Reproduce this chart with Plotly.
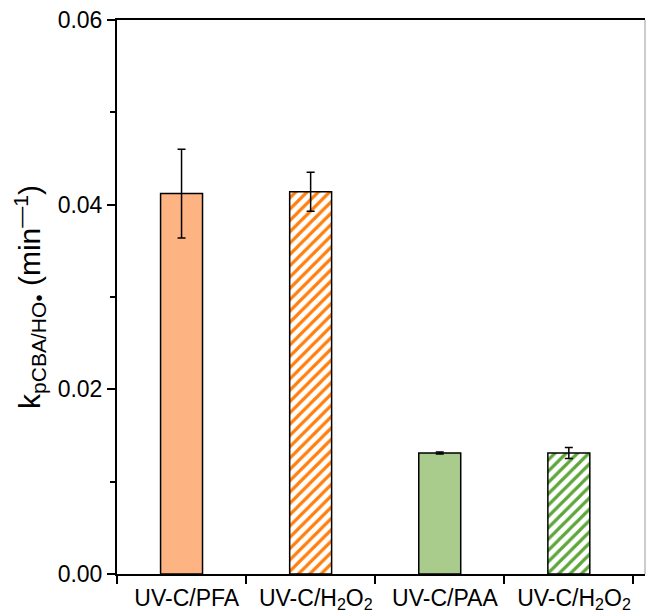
import plotly.graph_objects as go

categories = ["UV-C/PFA", "UV-C/H<sub>2</sub>O<sub>2</sub>", "UV-C/PAA", "UV-C/H<sub>2</sub>O<sub>2</sub>"]
values = [0.0412, 0.0414, 0.0131, 0.0131]
errors = [0.0048, 0.0021, 0.0001, 0.0006]
fill_colors = ["#FDB482", "white", "#A9CB8B", "white"]
hatch_colors = ["#FDB482", "#FF7F0E", "#A9CB8B", "#5DA63A"]
hatched = ["", "/", "", "/"]
y_ticks = [0.00, 0.02, 0.04, 0.06]
y_tick_text = ["0.00", "0.02", "0.04", "0.06"]

xs = list(range(len(categories)))
label_pos = [x + 0.04 for x in xs]  # labels sit slightly right of bar centres in the original
FONT = "Liberation Sans, Arial, sans-serif"

fig = go.Figure()
for i in xs:
    marker = dict(color=fill_colors[i], line=dict(color="black", width=1.5))
    if hatched[i]:
        marker["pattern"] = dict(shape=hatched[i], fgcolor=hatch_colors[i], bgcolor="white",
                                 size=8, solidity=0.4, fillmode="replace")
    fig.add_trace(go.Bar(
        x=[xs[i]], y=[values[i]], width=0.325, marker=marker,
        error_y=dict(type="data", array=[errors[i]], visible=True, color="black",
                     thickness=1.5, width=4),
        showlegend=False, hoverinfo="skip",
    ))

fig.update_layout(
    width=647, height=613,
    margin=dict(l=117, r=2, t=20, b=39),
    plot_bgcolor="white", paper_bgcolor="white",
    font=dict(family=FONT, color="black", size=20),
    barmode="overlay",
)
fig.update_xaxes(
    range=[-0.5, 3.59], tickvals=label_pos, ticktext=categories, ticks="", ticklen=0,
    showline=True, linecolor="black", linewidth=2, mirror=True, automargin=False,
    showgrid=False, zeroline=False, tickfont=dict(size=23), ticklabelstandoff=2,
    minor=dict(tickvals=[-0.5, 0.5, 1.5, 2.5, 3.5], ticks="outside", ticklen=8,
               tickwidth=2, tickcolor="black", showgrid=False),
)
fig.update_yaxes(
    range=[0, 0.06], tickvals=y_ticks, ticktext=y_tick_text, ticks="outside",
    ticklen=8, tickwidth=2, tickcolor="black", automargin=False,
    showline=True, linecolor="black", linewidth=2,
    showgrid=False, zeroline=False, tickfont=dict(size=23),
    minor=dict(tickvals=[0.01, 0.03, 0.05], ticks="outside", ticklen=5,
               tickwidth=2, tickcolor="black", showgrid=False),
    title=dict(text="k<sub>pCBA/HO•</sub> (min<sup>—1</sup>)", font=dict(size=30), standoff=8),
)
fig.add_shape(type="line", xref="paper", yref="paper", x0=1, x1=1, y0=0, y1=1,
              line=dict(color="#999999", width=1))

fig.write_html("out.html", config={"displayModeBar": False},
               post_script="document.body.style.margin='0';")
